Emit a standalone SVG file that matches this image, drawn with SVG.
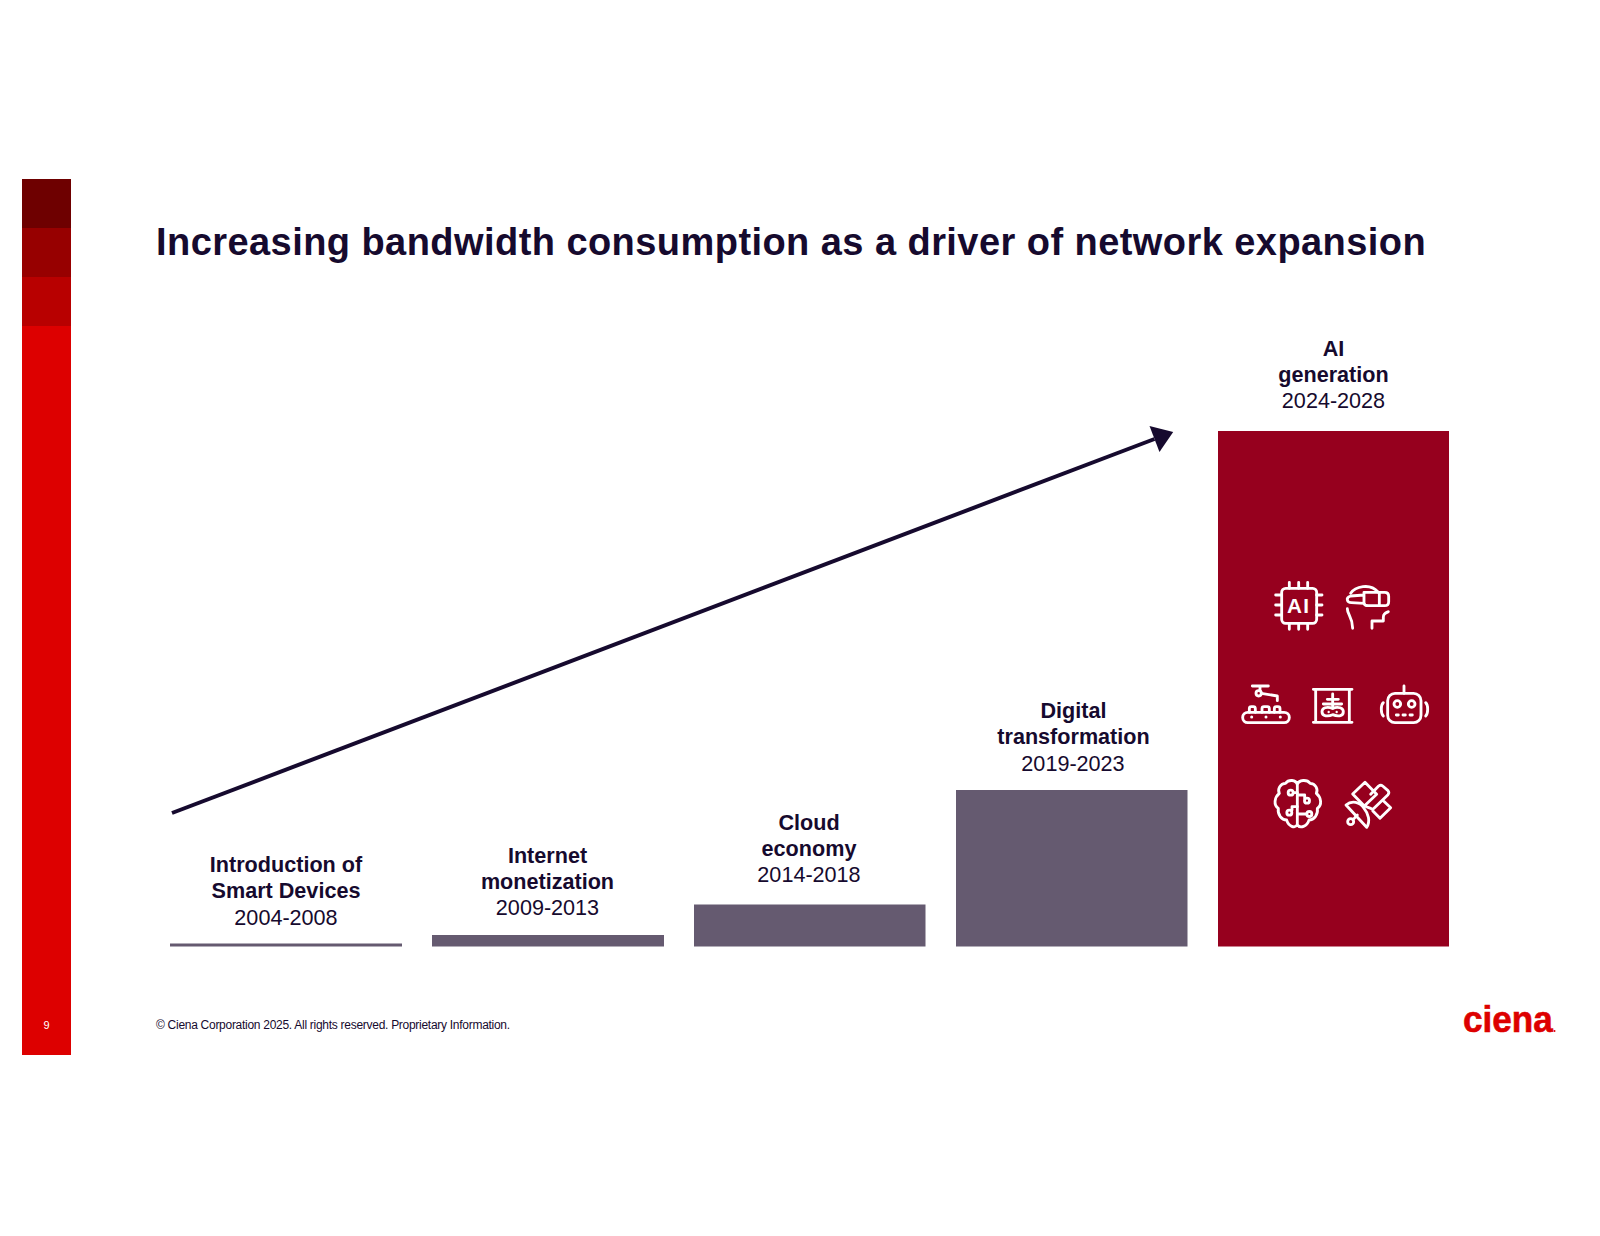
<svg xmlns="http://www.w3.org/2000/svg" width="1600" height="1236" viewBox="0 0 1600 1236">
<style>
text{font-family:"Liberation Sans",Arial,sans-serif;fill:#160a2e}
.l{font-size:21.6px;text-anchor:middle}
.b{font-weight:700}
.bar{fill:#655a70}
.i{fill:none;stroke:#fff;stroke-width:8.500;stroke-linecap:round;stroke-linejoin:round}
.d{fill:#fff;stroke:none}
</style>
<defs><marker id="ah" markerUnits="userSpaceOnUse" markerWidth="22" markerHeight="30" refX="1" refY="15" orient="auto"><path d="M1 1L21 15L1 29Z" fill="#160a2e"/></marker></defs>
<rect width="1600" height="1236" fill="#fff"/>
<g id="sidebar">
<rect x="22" y="326" width="49" height="729" fill="#dd0000"/>
<rect x="22" y="277" width="49" height="49" fill="#b80000"/>
<rect x="22" y="228" width="49" height="49" fill="#970000"/>
<rect x="22" y="179" width="49" height="49" fill="#6e0000"/>
<text x="46.500" y="1029" font-size="11" text-anchor="middle" style="fill:#fff">9</text>
</g>
<text id="title" x="156" y="255" font-size="38" font-weight="700" letter-spacing="0.44">Increasing bandwidth consumption as a driver of network expansion</text>
<g id="connectors"><line x1="172" y1="813" x2="1154.500" y2="439" stroke="#160a2e" stroke-width="4" marker-end="url(#ah)"/></g>
<g id="node1"><rect class="bar" x="170" y="943.500" width="232" height="3"/><text class="l b" x="286" y="872">Introduction of</text><text class="l b" x="286" y="898">Smart Devices</text><text class="l" x="286" y="925">2004-2008</text></g>
<g id="node2"><rect class="bar" x="432" y="935" width="232" height="11.500"/><text class="l b" x="547.500" y="863">Internet</text><text class="l b" x="547.500" y="889">monetization</text><text class="l" x="547.500" y="915">2009-2013</text></g>
<g id="node3"><rect class="bar" x="694" y="904.500" width="231.500" height="42"/><text class="l b" x="809" y="830">Cloud</text><text class="l b" x="809" y="856">economy</text><text class="l" x="809" y="882">2014-2018</text></g>
<g id="node4"><rect class="bar" x="956" y="790" width="231.500" height="156.500"/><text class="l b" x="1073.500" y="718">Digital</text><text class="l b" x="1073.500" y="744">transformation</text><text class="l" x="1073" y="771">2019-2023</text></g>
<g id="node5"><rect x="1218" y="431" width="231" height="515.500" fill="#96001e"/><text class="l b" x="1333.500" y="356">AI</text><text class="l b" x="1333.500" y="382">generation</text><text class="l" x="1333.500" y="408">2024-2028</text></g>
<g id="icon-ai" transform="translate(1220 560) scale(.33333)">
<rect class="i" x="185" y="85" width="105" height="105" rx="12"/>
<path class="i" d="M208 67V85M236 67V85M263 67V85M208 190V208M236 190V208M263 190V208M167 105H185M167 135H185M167 165H185M290 105H306M290 135H306M290 165H306"/>
<text x="236" y="160" font-size="62" font-weight="700" letter-spacing="4" text-anchor="middle" style="fill:#fff">AI</text>
</g>
<g id="icon-vr" transform="translate(1220 560) scale(.33333)">
<path class="i" d="M392 100C405 80 450 68 474 96"/>
<path class="i" d="M432 97H494Q506 97 506 109V125Q506 137 494 137H445Q432 137 432 128ZM478 97V137M432 105L392 108Q380 112 382 120Q384 128 394 128L432 130"/>
<path class="i" d="M382 146C382 165 398 170 398 205M505 155C495 160 490 162 490 172V183H456V205"/>
</g>
<g id="icon-conveyor" transform="translate(1220 680) scale(.33333)">
<rect class="i" x="68" y="97" width="140" height="31" rx="15.500"/>
<path class="i" d="M88 97V86Q88 80 94 80H100Q106 80 106 86V97M126 97V86Q126 80 132 80H142Q148 80 148 86V97M163 97V86Q163 80 169 80H174Q180 80 180 86V97"/>
<circle class="d" cx="95" cy="111" r="4.500"/><circle class="d" cx="138" cy="111" r="4.500"/><circle class="d" cx="181" cy="111" r="4.500"/>
<path class="i" d="M97 18H145M120 18V32M124 40L172 48V62"/>
<circle class="i" cx="116" cy="40" r="8"/>
</g>
<g id="icon-xray" transform="translate(1220 680) scale(.33333)">
<path class="i" d="M280 28H396M280 127H396M287 28V127M388 28V127"/>
<path class="i" d="M338 42V85M322 58H355M310 72H365"/>
<path class="i" d="M338 85C320 78 306 84 306 95C306 110 325 110 338 104C352 110 370 110 370 95C370 84 355 78 338 85Z"/>
<circle class="d" cx="326" cy="96" r="3.500"/><circle class="d" cx="350" cy="96" r="3.500"/>
</g>
<g id="icon-robot" transform="translate(1220 680) scale(.33333)">
<rect class="i" x="503" y="40" width="100" height="88" rx="22"/>
<path class="i" d="M552 18V40M529 105H535M549 105H556M570 105H577M490 68C482 75 482 100 490 108M617 68C625 75 625 100 617 108"/>
<circle class="i" cx="532" cy="72" r="10"/><circle class="i" cx="575" cy="72" r="10"/>
</g>
<g id="icon-brain" transform="translate(1220 680) scale(.33333)">
<path class="i" d="M232 314C228 298 205 298 197 310C180 310 172 328 178 340C163 352 160 375 175 385C172 405 185 420 200 420C205 439 225 447 232 434V314C236 298 262 298 270 310C287 310 295 328 289 340C304 352 307 375 292 385C295 405 282 420 267 420C262 439 240 447 232 434"/>
<path class="i" d="M220 338H232M254 354V345H232M216 390V380H232M260 402H232"/>
<circle class="i" cx="212" cy="338" r="7.500"/><circle class="i" cx="261" cy="362" r="7.500"/><circle class="i" cx="208" cy="398" r="7.500"/><circle class="i" cx="268" cy="402" r="7.500"/>
</g>
<g id="icon-satellite" transform="translate(1220 680) scale(.33333)">
<path class="i" d="M398 342L435 307L470 343L433 378ZM452 343L476 318Q482 313 488 318L504 332Q509 338 504 344L462 385Q457 390 452 385L433 378M490 362L512 383L480 415L458 392"/>
<path class="i" d="M378 375C395 360 420 365 432 385C445 400 452 425 440 442Z"/>
<path class="i" d="M412 405L402 416"/>
<circle class="i" cx="392" cy="425" r="9"/>
</g>
<g id="logo">
<text transform="translate(1463 1032) scale(.95 1)" font-size="37" font-weight="700" style="fill:#dd0000;stroke:#dd0000;stroke-width:.6">ciena</text>
<circle cx="1554.500" cy="1031" r="1" fill="#dd0000"/>
</g>
<text id="copyright" x="156" y="1029" font-size="12" letter-spacing="-0.28">© Ciena Corporation 2025. All rights reserved. Proprietary Information.</text>
</svg>
